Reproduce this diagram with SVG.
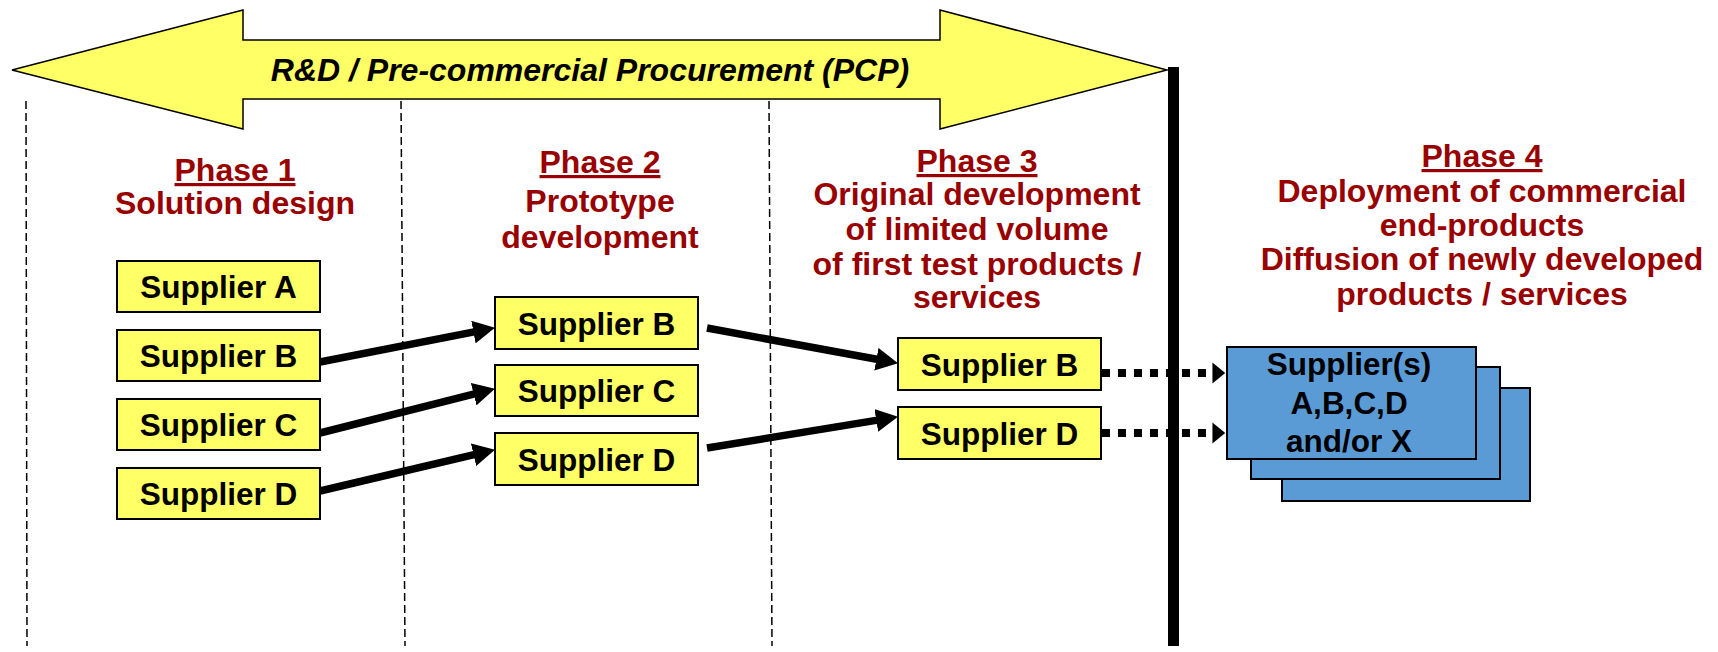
<svg xmlns="http://www.w3.org/2000/svg" width="1718" height="652" viewBox="0 0 1718 652">
<defs>
<style>
.bg{fill:#ffffff}
.dash{stroke:#000;stroke-width:1.5;stroke-dasharray:8 4;fill:none}
.ybox{fill:#FFFF66;stroke:#000;stroke-width:2}
.bbox{fill:#5B9BD5;stroke:#000;stroke-width:2}
.st{font-family:"Liberation Sans",Arial,sans-serif;font-weight:bold;font-size:31.5px;fill:#000;text-anchor:middle}
.ph{font-family:"Liberation Sans",Arial,sans-serif;font-weight:bold;font-size:32px;fill:#990000;text-anchor:middle}
.u{text-decoration:underline}
.title{font-family:"Liberation Sans",Arial,sans-serif;font-weight:bold;font-style:italic;font-size:32px;fill:#000;text-anchor:middle}
.solid{stroke:#000;stroke-width:7.5;fill:none;marker-end:url(#head)}
.dot{stroke:#000;stroke-width:8;stroke-dasharray:8 8;fill:none;marker-end:url(#dhead)}
</style>
<marker id="head" markerUnits="userSpaceOnUse" markerWidth="22" markerHeight="23" refX="6" refY="11.5" orient="auto" viewBox="0 0 22 23">
<path d="M0,0 L22,11.5 L0,23 z" fill="#000"/>
</marker>
<marker id="dhead" markerUnits="userSpaceOnUse" markerWidth="22" markerHeight="24" refX="-7" refY="11.5" orient="auto" viewBox="-8 0 24 23" overflow="visible">
<path d="M0,0 L14,11.5 L0,23 z" fill="#000"/>
</marker>
</defs>
<rect class="bg" x="0" y="0" width="1718" height="652"/>

<g id="dividers">
<line class="dash" x1="26" y1="101" x2="27" y2="646"/>
<line class="dash" x1="401" y1="101" x2="405" y2="646"/>
<line class="dash" x1="769" y1="101" x2="772" y2="646"/>
<rect x="1168" y="67" width="11" height="579" fill="#000"/>
</g>

<g id="pcp-arrow">
<polygon points="12,70 243,10 243,40 940,40 940,10 1167,70 940,129 940,99 243,99 243,129" fill="#FFFF66" stroke="#000" stroke-width="1.5" stroke-linejoin="miter"/>
<text class="title" x="590" y="81">R&amp;D / Pre-commercial Procurement (PCP)</text>
</g>

<g id="phase1-label">
<text class="ph u" x="235" y="181">Phase 1</text>
<text class="ph" x="235" y="214">Solution design</text>
</g>
<g id="phase2-label">
<text class="ph u" x="600" y="173">Phase 2</text>
<text class="ph" x="600" y="212">Prototype</text>
<text class="ph" x="600" y="248">development</text>
</g>
<g id="phase3-label">
<text class="ph u" x="977" y="172">Phase 3</text>
<text class="ph" x="977" y="205">Original development</text>
<text class="ph" x="977" y="240">of limited volume</text>
<text class="ph" x="977" y="275">of first test products /</text>
<text class="ph" x="977" y="308">services</text>
</g>
<g id="phase4-label">
<text class="ph u" x="1482" y="167">Phase 4</text>
<text class="ph" x="1482" y="202">Deployment of commercial</text>
<text class="ph" x="1482" y="236">end-products</text>
<text class="ph" x="1482" y="270">Diffusion of newly developed</text>
<text class="ph" x="1482" y="305">products / services</text>
</g>

<g id="connectors">
<line class="solid" x1="320" y1="362" x2="479.3" y2="330.9"/>
<line class="solid" x1="320" y1="433" x2="479.5" y2="392.7"/>
<line class="solid" x1="320" y1="491" x2="479.4" y2="453.4"/>
<line class="solid" x1="707" y1="328" x2="882.3" y2="360.3"/>
<line class="solid" x1="707" y1="448" x2="882.2" y2="419.4"/>
<line class="dot" x1="1102" y1="373" x2="1206" y2="373"/>
<line class="dot" x1="1102" y1="433" x2="1206" y2="433"/>
</g>

<g id="p1-supplier-a"><rect class="ybox" x="117" y="261" width="203" height="51"/><text class="st" x="218.5" y="297.5">Supplier A</text></g>
<g id="p1-supplier-b"><rect class="ybox" x="117" y="330" width="203" height="51"/><text class="st" x="218.5" y="366.5">Supplier B</text></g>
<g id="p1-supplier-c"><rect class="ybox" x="117" y="399" width="203" height="51"/><text class="st" x="218.5" y="435.5">Supplier C</text></g>
<g id="p1-supplier-d"><rect class="ybox" x="117" y="468" width="203" height="51"/><text class="st" x="218.5" y="504.5">Supplier D</text></g>

<g id="p2-supplier-b"><rect class="ybox" x="495" y="297" width="203" height="52"/><text class="st" x="596.5" y="334.5">Supplier B</text></g>
<g id="p2-supplier-c"><rect class="ybox" x="495" y="365" width="203" height="51"/><text class="st" x="596.5" y="401.5">Supplier C</text></g>
<g id="p2-supplier-d"><rect class="ybox" x="495" y="433" width="203" height="52"/><text class="st" x="596.5" y="470.5">Supplier D</text></g>

<g id="p3-supplier-b"><rect class="ybox" x="898" y="338" width="203" height="52"/><text class="st" x="999.5" y="375.5">Supplier B</text></g>
<g id="p3-supplier-d"><rect class="ybox" x="898" y="407" width="203" height="52"/><text class="st" x="999.5" y="444.5">Supplier D</text></g>

<g id="p4-suppliers">
<rect class="bbox" x="1282" y="388" width="248" height="113"/>
<rect class="bbox" x="1251" y="367" width="249" height="112"/>
<rect class="bbox" x="1227" y="347" width="249" height="112"/>
<text class="st" x="1349" y="375">Supplier(s)</text>
<text class="st" x="1349" y="414">A,B,C,D</text>
<text class="st" x="1349" y="452">and/or X</text>
</g>
</svg>
